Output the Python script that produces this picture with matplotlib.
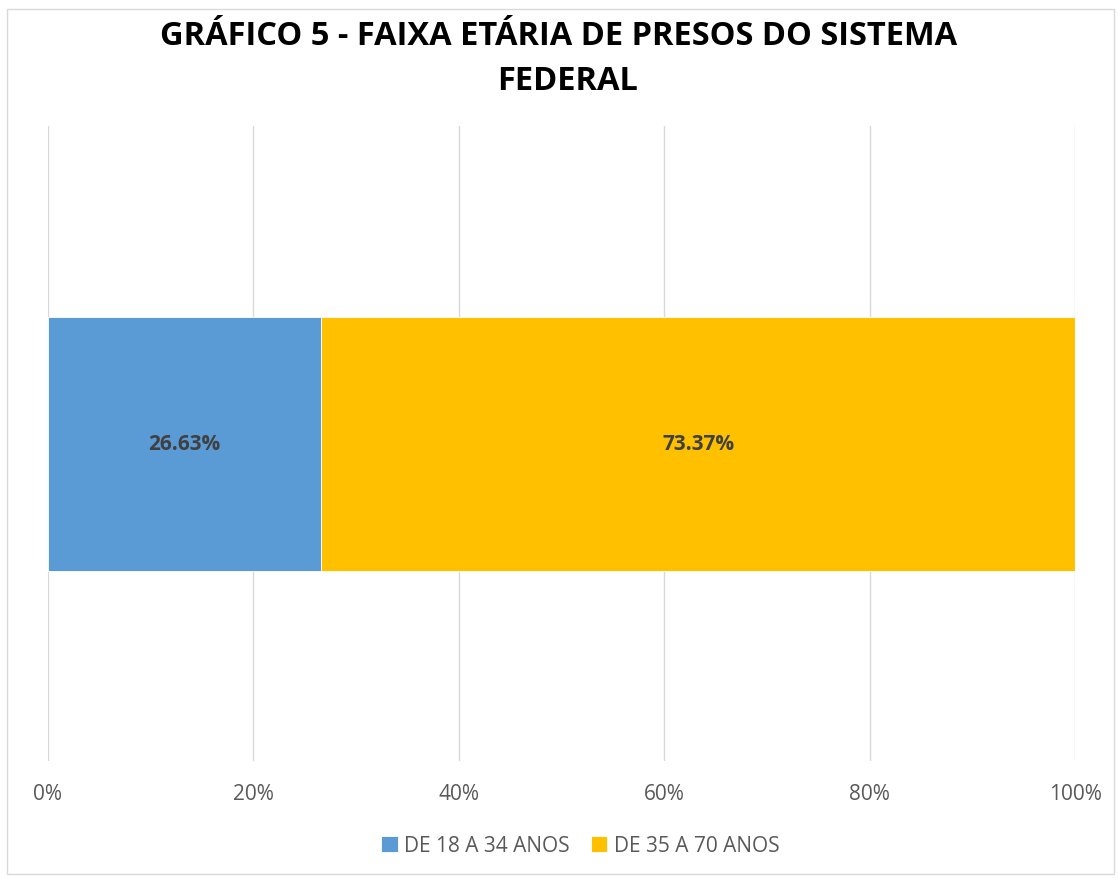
import matplotlib
matplotlib.use("Agg")
import matplotlib.pyplot as plt
from matplotlib.patches import Rectangle
from matplotlib.ticker import PercentFormatter

series = ["DE 18 A 34 ANOS", "DE 35 A 70 ANOS"]
values = [26.63, 73.37]
colors = ["#5B9BD5", "#FFC000"]
ticks = [0, 20, 40, 60, 80, 100]

fam = ["Open Sans", "DejaVu Sans"]
plt.rcParams["font.family"] = fam

fig = plt.figure(figsize=(11.18, 8.79), dpi=100)
fig.patches.append(Rectangle((0.006, 0.004), 0.99, 0.985, transform=fig.transFigure,
                             fill=False, edgecolor="#D9D9D9", linewidth=1))
ax = fig.add_axes([0.0429, 0.1331, 0.9187, 0.7224])

left = 0
handles = []
for name, v, c in zip(series, values, colors):
    b = ax.barh([0], [v], left=left, height=1.0, color=c, edgecolor="white",
                linewidth=0.6, label=name, zorder=3)
    ax.text(left + v / 2, 0, f"{v:.2f}%", ha="center", va="center",
            fontsize=15, fontweight="bold", color="#404040", zorder=4)
    handles.append(b)
    left += v

ax.set_xlim(0, 100)
ax.set_ylim(-1.25, 1.25)
ax.set_xticks(ticks)
ax.xaxis.set_major_formatter(PercentFormatter(decimals=0))
ax.set_yticks([])
ax.grid(axis="x", color="#D9D9D9", linewidth=1, zorder=0)
for s in ax.spines.values():
    s.set_visible(False)
ax.tick_params(axis="x", length=0, pad=16, labelsize=15, labelcolor="#595959")

fig.text(0.5, 0.958, "GRÁFICO 5 - FAIXA ETÁRIA DE PRESOS DO SISTEMA", ha="center", va="center",
         fontsize=23.5, fontweight="bold", color="#000000")
fig.text(0.508, 0.907, "FEDERAL", ha="center", va="center",
         fontsize=23.5, fontweight="bold", color="#000000")

fig.legend(handles=handles, labels=series, loc="center", bbox_to_anchor=(0.519, 0.037),
           ncol=2, frameon=False, fontsize=15, labelcolor="#595959",
           handlelength=0.8, handleheight=0.8, handletextpad=0.3, columnspacing=1.0)

fig.savefig("out.png", dpi=100)
